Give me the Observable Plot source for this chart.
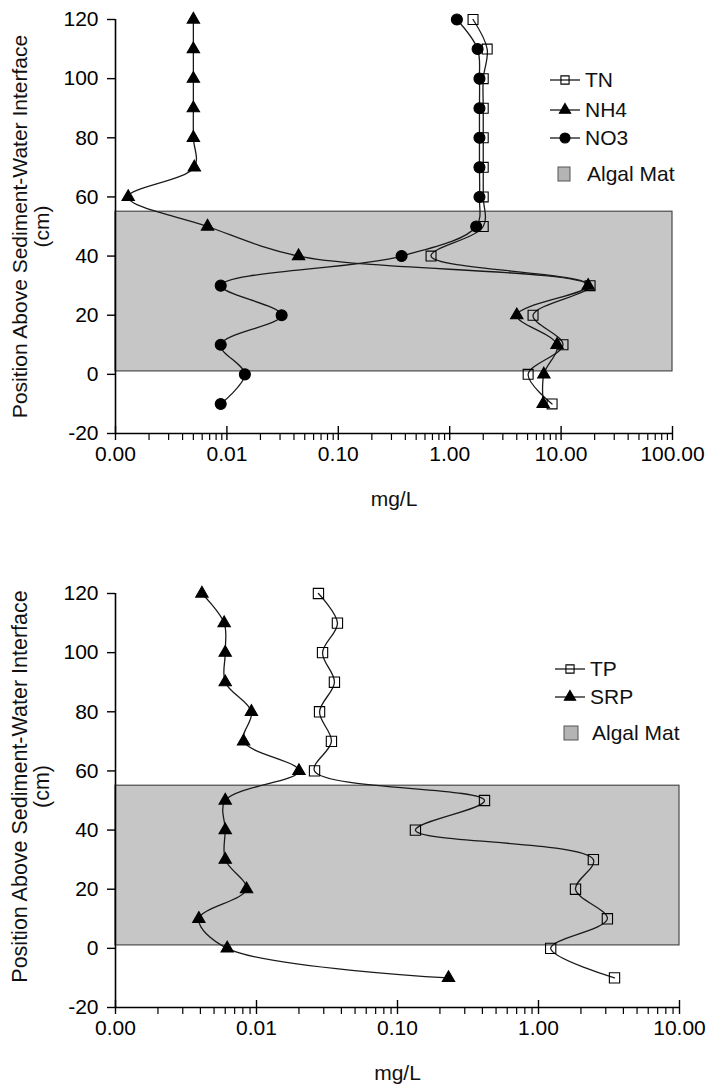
<!DOCTYPE html>
<html><head><meta charset="utf-8">
<script src="https://cdn.jsdelivr.net/npm/d3@7"></script>
<script src="https://cdn.jsdelivr.net/npm/@observablehq/plot@0.6"></script>
<style>
html,body{margin:0;padding:0;background:#fff;overflow:hidden;}
#wrap{position:relative;width:707px;height:1085px;font-family:"Liberation Sans",Arial,sans-serif;}
#top,#bottom{position:absolute;left:0;}
#top{top:0}#bottom{top:540px}
#legend{position:absolute;left:0;top:0;pointer-events:none;}
</style></head><body>
<div id="wrap"><div id="top"></div><div id="bottom"></div><svg id="legend" width="707" height="1085"></svg></div>
<script>
// ---- data ----
const depths = [120, 110, 100, 90, 80, 70, 60, 50, 40, 30, 20, 10, 0, -10];
// top panel (nitrogen, mg/L)
const TN  = [1.62, 2.17, 2.0, 2.0, 2.0, 2.0, 2.0, 2.0, 0.68, 18.2, 5.6, 10.4, 5.06, 8.3];
const NH4 = [0.005, 0.005, 0.005, 0.005, 0.005, 0.0051, 0.0013, 0.0067, 0.044, 17.5, 4.0, 9.2, 7.0, 6.9];
const NO3 = [1.16, 1.78, 1.85, 1.85, 1.85, 1.85, 1.85, 1.73, 0.37, 0.0088, 0.031, 0.0088, 0.0145, 0.0088];
// bottom panel (phosphorus, mg/L)
const TP  = [0.0275, 0.0375, 0.0294, 0.0357, 0.028, 0.034, 0.0258, 0.414, 0.134, 2.45, 1.83, 3.08, 1.22, 3.46];
const SRP = [0.0041, 0.0059, 0.006, 0.006, 0.0092, 0.0081, 0.020, 0.006, 0.006, 0.006, 0.0085, 0.0039, 0.0062, 0.23];
// algal mat band (cm)
const algalMat = [{bottom: 1, top: 55}];
const yTicks = [-20, 0, 20, 40, 60, 80, 100, 120];
const topXTicks = [0.001, 0.01, 0.1, 1, 10, 100];
const bottomXTicks = [0.001, 0.01, 0.1, 1, 10];
const yTitle = "Position Above Sediment-Water Interface";
const yUnit = "(cm)";
const xTitle = "mg/L";

const FONT = '"Liberation Sans", Arial, sans-serif';
const LINE = "#1a1a1a";
const MAT_FILL = "#c6c6c6";
const MAT_STROKE = "#4a4a4a";

function minorTicks(majors) {
  const out = [];
  for (let i = 0; i < majors.length - 1; i++) for (let k = 2; k <= 9; k++) out.push(majors[i] * k);
  return out;
}

function panel({series, xTicks, height, marginTop, marginBottom, marginRight, titleSize, titleDy}) {
  const domain = [xTicks[0], xTicks[xTicks.length - 1]];
  const marks = [
    Plot.rect(algalMat, {x1: () => domain[0], x2: () => domain[1], y1: "bottom", y2: "top", fill: MAT_FILL, stroke: MAT_STROKE, strokeWidth: 1.2}),
  ];
  for (const s of series) {
    const data = depths.map((d, i) => ({d, v: s.values[i]}));
    marks.push(Plot.line(data, {x: "v", y: "d", curve: "catmull-rom", stroke: LINE, strokeWidth: 1.3}));
  }
  for (const s of series) {
    const data = depths.map((d, i) => ({d, v: s.values[i]}));
    marks.push(Plot.dot(data, {x: "v", y: "d", symbol: s.symbol, r: s.r, fill: s.fill, stroke: "#000", strokeWidth: 1.1}));
  }
  marks.push(
    Plot.ruleX([domain[0]], {stroke: "#000", strokeWidth: 1.6}),
    Plot.ruleY([yTicks[0]], {stroke: "#000", strokeWidth: 1.6}),
    Plot.axisY(yTicks, {tickSize: 8, tickPadding: 9, label: null, fontSize: 21, tickFormat: d => String(d), stroke: "#000", strokeWidth: 1.4}),
    Plot.axisX(xTicks, {tickSize: 7, tickPadding: 6, label: null, fontSize: 21, tickFormat: d3.format(".2f"), stroke: "#000", strokeWidth: 1.4}),
    Plot.axisX(xTicks, {tickSize: -7, text: null, label: null, stroke: "#000", strokeWidth: 1.4}),
    Plot.axisX(minorTicks(xTicks), {tickSize: 7, text: null, label: null, stroke: "#000", strokeWidth: 1.2}),
    Plot.text([yTitle], {text: d => d, frameAnchor: "left", textAnchor: "middle", lineAnchor: "middle", rotate: -90, dx: -95, dy: titleDy, fontSize: titleSize, fill: "#111"}),
    Plot.text([yUnit], {text: d => d, frameAnchor: "left", textAnchor: "middle", lineAnchor: "middle", rotate: -90, dx: -73, dy: titleDy, fontSize: titleSize, fill: "#111"}),
    Plot.text([xTitle], {text: d => d, frameAnchor: "bottom", textAnchor: "middle", lineAnchor: "middle", dy: 66, fontSize: 21, fill: "#111"})
  );
  return Plot.plot({
    width: 707, height, marginTop, marginBottom, marginLeft: 115, marginRight,
    style: {fontFamily: FONT, fontSize: "21px", color: "#000", background: "#fff", overflow: "hidden"},
    x: {type: "log", domain, axis: null},
    y: {domain: [yTicks[0], yTicks[yTicks.length - 1]], axis: null},
    marks
  });
}

document.getElementById("top").appendChild(panel({
  series: [
    {name: "TN", values: TN, symbol: "square", r: 5.6, fill: "none"},
    {name: "NH4", values: NH4, symbol: "triangle", r: 4.6, fill: "#000"},
    {name: "NO3", values: NO3, symbol: "circle", r: 5.5, fill: "#000"}
  ],
  xTicks: topXTicks, height: 540, marginTop: 19, marginBottom: 107, marginRight: 35, titleSize: 21, titleDy: 0
}));
document.getElementById("bottom").appendChild(panel({
  series: [
    {name: "TP", values: TP, symbol: "square", r: 5.8, fill: "none"},
    {name: "SRP", values: SRP, symbol: "triangle", r: 4.6, fill: "#000"}
  ],
  xTicks: bottomXTicks, height: 545, marginTop: 53, marginBottom: 78, marginRight: 28, titleSize: 21.5, titleDy: -14
}));

// ---- legends ----
const lg = d3.select("#legend");
function legend(entries, matY, matX, matW, matH, textX) {
  for (const e of entries) {
    lg.append("line").attr("x1", e.x1).attr("x2", e.x2).attr("y1", e.y).attr("y2", e.y).attr("stroke", LINE).attr("stroke-width", 1.3);
    const sym = {square: d3.symbolSquare, triangle: d3.symbolTriangle, circle: d3.symbolCircle}[e.symbol];
    lg.append("path").attr("transform", `translate(${(e.x1 + e.x2) / 2},${e.y})`)
      .attr("d", d3.symbol(sym, Math.PI * e.r * e.r)())
      .attr("fill", e.fill).attr("stroke", "#000").attr("stroke-width", 1.1);
    lg.append("text").attr("x", e.tx).attr("y", e.y).attr("dy", "0.35em").attr("font-family", FONT).attr("font-size", 21).attr("fill", "#111").text(e.name);
  }
  lg.append("rect").attr("x", matX).attr("y", matY - matH / 2).attr("width", matW).attr("height", matH).attr("fill", "#b4b4b4").attr("stroke", "#555").attr("stroke-width", 1);
  lg.append("text").attr("x", textX).attr("y", matY).attr("dy", "0.35em").attr("font-family", FONT).attr("font-size", 21).attr("fill", "#111").text("Algal Mat");
}
legend([
  {name: "TN", y: 80, x1: 550, x2: 580, tx: 585, symbol: "square", r: 4.6, fill: "none"},
  {name: "NH4", y: 110, x1: 550, x2: 580, tx: 585, symbol: "triangle", r: 4.2, fill: "#000"},
  {name: "NO3", y: 138, x1: 550, x2: 580, tx: 585, symbol: "circle", r: 5, fill: "#000"}
], 174, 558, 12, 14, 587);
legend([
  {name: "TP", y: 669, x1: 555, x2: 585, tx: 590, symbol: "square", r: 4.6, fill: "none"},
  {name: "SRP", y: 697, x1: 555, x2: 585, tx: 590, symbol: "triangle", r: 4.2, fill: "#000"}
], 733, 564, 14, 14, 592);
</script>
</body></html>
